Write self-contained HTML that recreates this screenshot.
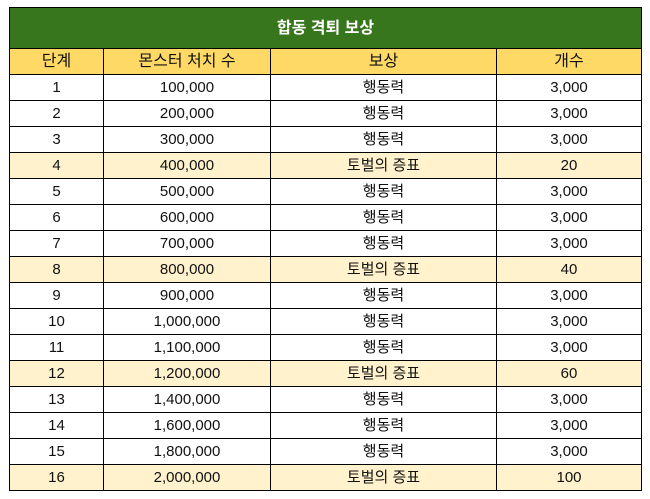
<!DOCTYPE html>
<html><head><meta charset="utf-8"><style>
body{margin:0;background:#fff;width:650px;height:499px;overflow:hidden;font-family:"Liberation Sans","Noto Sans CJK KR",sans-serif;}
table{position:absolute;left:9px;top:7px;border-collapse:collapse;table-layout:fixed;}
td{border:1px solid #000;text-align:center;height:25px;padding:0;font-size:15px;color:#111;line-height:25px;}
.t td{background:#38761d;color:#fff;font-weight:bold;height:40px;font-size:16px;}
.h td{background:#ffd966;font-size:16px;}
.y td{background:#fff2cc;}
</style></head><body>
<table>
<colgroup><col style="width:94px"><col style="width:167px"><col style="width:226px"><col style="width:145px"></colgroup>
<tr class="t"><td colspan="4">합동 격퇴 보상</td></tr>
<tr class="h"><td>단계</td><td>몬스터 처치 수</td><td>보상</td><td>개수</td></tr>
<tr><td>1</td><td>100,000</td><td>행동력</td><td>3,000</td></tr>
<tr><td>2</td><td>200,000</td><td>행동력</td><td>3,000</td></tr>
<tr><td>3</td><td>300,000</td><td>행동력</td><td>3,000</td></tr>
<tr class="y"><td>4</td><td>400,000</td><td>토벌의 증표</td><td>20</td></tr>
<tr><td>5</td><td>500,000</td><td>행동력</td><td>3,000</td></tr>
<tr><td>6</td><td>600,000</td><td>행동력</td><td>3,000</td></tr>
<tr><td>7</td><td>700,000</td><td>행동력</td><td>3,000</td></tr>
<tr class="y"><td>8</td><td>800,000</td><td>토벌의 증표</td><td>40</td></tr>
<tr><td>9</td><td>900,000</td><td>행동력</td><td>3,000</td></tr>
<tr><td>10</td><td>1,000,000</td><td>행동력</td><td>3,000</td></tr>
<tr><td>11</td><td>1,100,000</td><td>행동력</td><td>3,000</td></tr>
<tr class="y"><td>12</td><td>1,200,000</td><td>토벌의 증표</td><td>60</td></tr>
<tr><td>13</td><td>1,400,000</td><td>행동력</td><td>3,000</td></tr>
<tr><td>14</td><td>1,600,000</td><td>행동력</td><td>3,000</td></tr>
<tr><td>15</td><td>1,800,000</td><td>행동력</td><td>3,000</td></tr>
<tr class="y"><td>16</td><td>2,000,000</td><td>토벌의 증표</td><td>100</td></tr>
</table>
</body></html>
